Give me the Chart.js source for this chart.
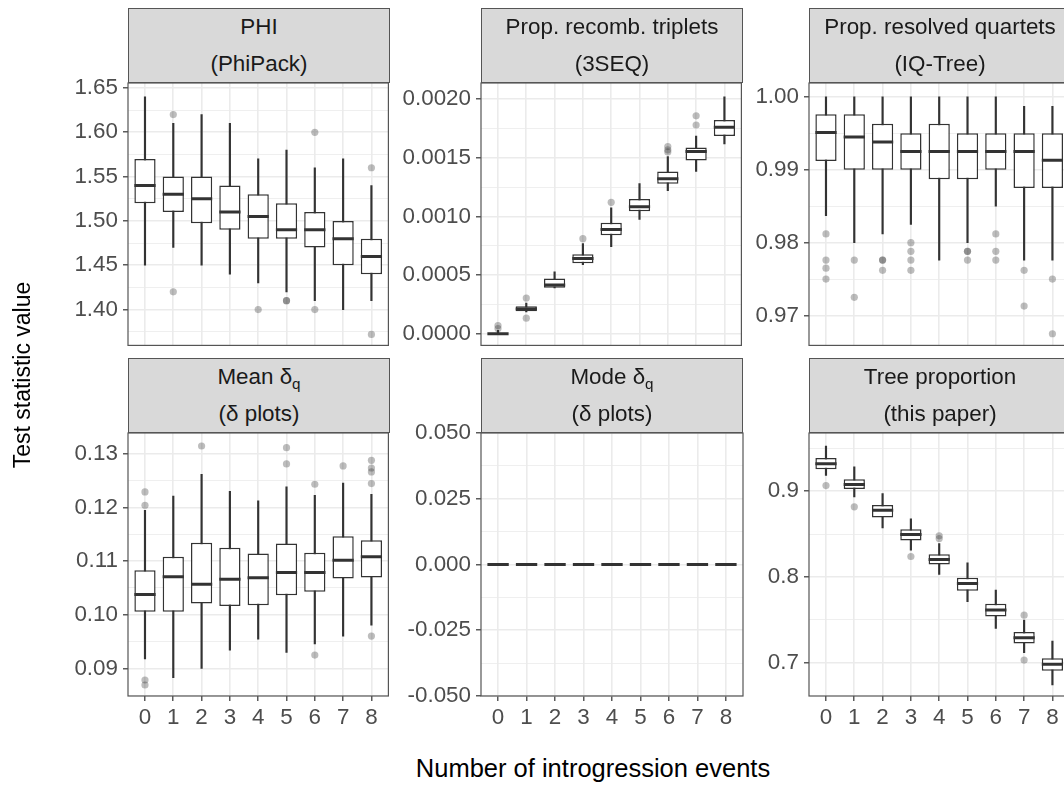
<!DOCTYPE html>
<html>
<head>
<meta charset="utf-8">
<script src="https://cdn.jsdelivr.net/npm/chart.js@4.4.1/dist/chart.umd.min.js"></script>
<style>
  html, body { margin: 0; padding: 0; background: #ffffff; }
  #fig { position: relative; width: 1064px; height: 790px; overflow: hidden;
         font-family: 'Liberation Sans', Arial, Helvetica, sans-serif; background: #fff; }
  #fig canvas { position: absolute; }
  .strip { position: absolute; box-sizing: border-box; background: #d9d9d9;
           border: 1.2px solid #555; color: #1a1a1a; font-size: 22.4px;
           text-align: center; line-height: 36.6px; white-space: nowrap; }
  .strip sub { font-size: 0.68em; line-height: 0; vertical-align: -0.32em; }
  .axis-title { position: absolute; color: #000; white-space: nowrap;
                text-align: center; line-height: 30px; }
</style>
</head>
<body>
<div id="fig"></div>
<script>
// Number of introgression events (x categories)
const categories = [0, 1, 2, 3, 4, 5, 6, 7, 8];

// PHI (PhiPack)
const phiLow  = [1.45, 1.47, 1.45, 1.44, 1.43, 1.42, 1.41, 1.40, 1.41];
const phiQ1   = [1.52, 1.51, 1.4975, 1.49, 1.48, 1.48, 1.47, 1.45, 1.44];
const phiMed  = [1.54, 1.53, 1.525, 1.51, 1.505, 1.49, 1.49, 1.48, 1.46];
const phiQ3   = [1.57, 1.55, 1.55, 1.54, 1.53, 1.52, 1.51, 1.50, 1.48];
const phiHigh = [1.64, 1.61, 1.62, 1.61, 1.57, 1.58, 1.56, 1.57, 1.54];
const phiOut  = [[], [1.62, 1.42], [], [], [1.40], [1.41, 1.41], [1.60, 1.40], [], [1.56, 1.372]];
const phiTicks = ['1.40', '1.45', '1.50', '1.55', '1.60', '1.65'];

// Proportion of recombinant triplets (3SEQ)
const seqLow  = [0, 0.000186, 0.00039, 0.00059, 0.000743, 0.000975, 0.00122, 0.001384, 0.001619];
const seqQ1   = [0, 0.000192, 0.000392, 0.000602, 0.000839, 0.001045, 0.00128, 0.001477, 0.001686];
const seqMed  = [0, 0.000212, 0.000415, 0.000641, 0.00089, 0.001082, 0.001322, 0.001553, 0.00176];
const seqQ3   = [0, 0.000235, 0.000472, 0.000678, 0.000947, 0.00115, 0.001384, 0.001588, 0.001822];
const seqHigh = [0.00003, 0.000262, 0.000528, 0.000768, 0.001074, 0.00128, 0.001511, 0.001686, 0.00202];
const seqOut  = [[0.000045, 0.00007], [0.000305, 0.000133], [], [0.000811], [0.001121], [],
                 [0.001596, 0.001568, 0.00155], [0.00178, 0.001858], []];
const seqTicks = ['0.0000', '0.0005', '0.0010', '0.0015', '0.0020'];

// Proportion of resolved quartets (IQ-Tree)
const iqLow  = [0.9837, 0.9800, 0.9812, 0.9825, 0.9776, 0.9800, 0.9850, 0.9776, 0.9776];
const iqQ1   = [0.9912, 0.9900, 0.9900, 0.9900, 0.9887, 0.9887, 0.9900, 0.9875, 0.9875];
const iqMed  = [0.9951, 0.9945, 0.9938, 0.9925, 0.9925, 0.9925, 0.9925, 0.9925, 0.9913];
const iqQ3   = [0.9976, 0.9976, 0.9963, 0.9950, 0.9963, 0.9950, 0.9950, 0.9950, 0.9950];
const iqHigh = [1.0000, 1.0000, 1.0000, 1.0000, 1.0000, 1.0000, 1.0000, 0.9987, 0.9987];
const iqOut  = [[0.9812, 0.9776, 0.9765, 0.9750], [0.9776, 0.9725], [0.9776, 0.9776, 0.9762],
                [0.9800, 0.9788, 0.9776, 0.9762], [], [0.9788, 0.9788, 0.9776],
                [0.9812, 0.9788, 0.9776], [0.9762, 0.9713], [0.9750, 0.9675]];
const iqTicks = ['0.97', '0.98', '0.99', '1.00'];

// Mean delta_q (delta plots)
const meanLow  = [0.09174, 0.08826, 0.09000, 0.09341, 0.09546, 0.09298, 0.09453, 0.09602, 0.09806];
const meanQ1   = [0.10054, 0.10054, 0.10209, 0.10160, 0.10178, 0.10364, 0.10426, 0.10674, 0.10693];
const meanMed  = [0.10377, 0.10705, 0.10569, 0.10662, 0.10687, 0.10786, 0.10786, 0.11016, 0.11078];
const meanQ3   = [0.10830, 0.11078, 0.11338, 0.11245, 0.11140, 0.11326, 0.11152, 0.11462, 0.11388];
const meanHigh = [0.11946, 0.12212, 0.12615, 0.12299, 0.12120, 0.12380, 0.12225, 0.12454, 0.12243];
const meanOut  = [[0.12287, 0.12039, 0.08783, 0.0869], [], [0.13143], [], [], [0.13112, 0.12808],
                  [0.1243, 0.09248], [0.12771], [0.12876, 0.12733, 0.12659, 0.12442, 0.09602]];
const meanTicks = ['0.09', '0.10', '0.11', '0.12', '0.13'];

// Mode delta_q (delta plots)
const modeLow  = [0, 0, 0, 0, 0, 0, 0, 0, 0];
const modeQ1   = [0, 0, 0, 0, 0, 0, 0, 0, 0];
const modeMed  = [0, 0, 0, 0, 0, 0, 0, 0, 0];
const modeQ3   = [0, 0, 0, 0, 0, 0, 0, 0, 0];
const modeHigh = [0, 0, 0, 0, 0, 0, 0, 0, 0];
const modeOut  = [[], [], [], [], [], [], [], [], []];
const modeTicks = ['-0.050', '-0.025', '0.000', '0.025', '0.050'];

// Tree proportion (this paper)
const treeLow  = [0.9186, 0.8934, 0.8573, 0.8313, 0.8029, 0.7711, 0.7400, 0.7117, 0.6740];
const treeQ1   = [0.9256, 0.9027, 0.8693, 0.8425, 0.8146, 0.7839, 0.7540, 0.7225, 0.6907];
const treeMed  = [0.9322, 0.9078, 0.8779, 0.8495, 0.8204, 0.7924, 0.7614, 0.7291, 0.6981];
const treeQ3   = [0.9388, 0.9140, 0.8841, 0.8557, 0.8266, 0.7990, 0.7687, 0.7357, 0.7051];
const treeHigh = [0.9528, 0.9284, 0.8973, 0.8678, 0.8390, 0.8165, 0.7847, 0.7497, 0.7252];
const treeOut  = [[0.9066], [0.8818], [], [0.8239], [0.8480, 0.8449], [], [], [0.7555, 0.7031], []];
const treeTicks = ['0.7', '0.8', '0.9'];

// ---- layout of the facet grid ----
const FONT = "'Liberation Sans', Arial, Helvetica, sans-serif";
const COL_LEFT = [128, 481, 809];
const PANEL_W = 262;
const STRIP_TOP = [8, 358];
const STRIP_H = 75;
const PLOT_TOP = [83, 433];
const PLOT_H = [264, 263];
const AXIS_W = 100;   // room for y tick labels
const PAD_TOP = 16;   // room for a tick label sitting on the top edge
const PAD_RIGHT = 2;

const panels = [
  { col: 0, row: 0, lines: ['PHI', '(PhiPack)'], low: phiLow, q1: phiQ1, med: phiMed, q3: phiQ3, high: phiHigh, out: phiOut, ticks: phiTicks, yMin: 1.3596, yMax: 1.6556 },
  { col: 1, row: 0, lines: ['Prop. recomb. triplets', '(3SEQ)'], low: seqLow, q1: seqQ1, med: seqMed, q3: seqQ3, high: seqHigh, out: seqOut, ticks: seqTicks, yMin: -0.0000992, yMax: 0.002138 },
  { col: 2, row: 0, lines: ['Prop. resolved quartets', '(IQ-Tree)'], low: iqLow, q1: iqQ1, med: iqMed, q3: iqQ3, high: iqHigh, out: iqOut, ticks: iqTicks, yMin: 0.9659, yMax: 1.0019 },
  { col: 0, row: 1, lines: ['Mean δ<sub>q</sub>', '(δ plots)'], low: meanLow, q1: meanQ1, med: meanMed, q3: meanQ3, high: meanHigh, out: meanOut, ticks: meanTicks, yMin: 0.08485, yMax: 0.13385 },
  { col: 1, row: 1, lines: ['Mode δ<sub>q</sub>', '(δ plots)'], low: modeLow, q1: modeQ1, med: modeMed, q3: modeQ3, high: modeHigh, out: modeOut, ticks: modeTicks, yMin: -0.05, yMax: 0.05 },
  { col: 2, row: 1, lines: ['Tree proportion', '(this paper)'], low: treeLow, q1: treeQ1, med: treeMed, q3: treeQ3, high: treeHigh, out: treeOut, ticks: treeTicks, yMin: 0.66117, yMax: 0.96796 }
];

// major ticks from the labels, minor ticks half-way between them
function tickObjects(labels, lo, hi) {
  const vals = labels.map(Number);
  const step = vals[1] - vals[0];
  const list = vals.map((v, i) => ({ value: v, text: labels[i], minor: false }));
  const mids = [vals[0] - step / 2];
  for (let i = 0; i < vals.length - 1; i++) mids.push((vals[i] + vals[i + 1]) / 2);
  mids.push(vals[vals.length - 1] + step / 2);
  mids.forEach(v => { if (v >= lo && v <= hi) list.push({ value: v, text: '', minor: true }); });
  return list.sort((a, b) => a.value - b.value);
}

// thick median bar across each box
const boxMedian = {
  id: 'boxMedian',
  afterDatasetsDraw(chart) {
    const ds = chart.data.datasets[1];
    const meta = chart.getDatasetMeta(1);
    const yScale = chart.scales.y;
    const ctx = chart.ctx;
    const a = chart.chartArea;
    ctx.save();
    ctx.beginPath();
    ctx.rect(a.left, a.top, a.right - a.left, a.bottom - a.top);
    ctx.clip();
    ctx.strokeStyle = '#333333';
    ctx.lineWidth = 3;
    meta.data.forEach((el, i) => {
      const y = yScale.getPixelForValue(ds.medians[i]);
      const half = el.width / 2;
      ctx.beginPath();
      ctx.moveTo(el.x - half, y);
      ctx.lineTo(el.x + half, y);
      ctx.stroke();
    });
    ctx.restore();
  }
};

// ggplot-style panel border
const panelBorder = {
  id: 'panelBorder',
  afterDraw(chart) {
    const a = chart.chartArea;
    const ctx = chart.ctx;
    ctx.save();
    ctx.strokeStyle = '#555555';
    ctx.lineWidth = 1.2;
    ctx.strokeRect(a.left, a.top, a.right - a.left, a.bottom - a.top);
    ctx.restore();
  }
};

const fig = document.getElementById('fig');

function drawPanel(p) {
  const bottomRow = p.row === 1;
  const xAxisH = bottomRow ? 44 : 2;
  const w = AXIS_W + PANEL_W + PAD_RIGHT;
  const h = PAD_TOP + PLOT_H[p.row] + xAxisH;
  const cv = document.createElement('canvas');
  cv.width = w; cv.height = h;
  cv.style.width = w + 'px'; cv.style.height = h + 'px';
  cv.style.left = (COL_LEFT[p.col] - AXIS_W) + 'px';
  cv.style.top = (PLOT_TOP[p.row] - PAD_TOP) + 'px';
  fig.appendChild(cv);

  const yTicks = tickObjects(p.ticks, p.yMin, p.yMax);
  const isMinor = ctx => !!(ctx && ctx.tick && ctx.tick.minor);

  new Chart(cv, {
    type: 'bar',
    data: {
      datasets: [
        {
          label: 'whiskers',
          data: categories.map((c, i) => ({ x: c, y: [p.low[i], p.high[i]] })),
          backgroundColor: '#333333',
          barThickness: 1.5,
          grouped: false,
          order: 3
        },
        {
          label: 'boxes',
          data: categories.map((c, i) => ({ x: c, y: [p.q1[i], p.q3[i]] })),
          medians: p.med,
          backgroundColor: '#ffffff',
          borderColor: '#333333',
          borderWidth: 1.5,
          borderSkipped: false,
          barPercentage: 0.75,
          categoryPercentage: 1,
          grouped: false,
          order: 2
        },
        {
          type: 'scatter',
          label: 'outliers',
          data: p.out.flatMap((vals, i) => vals.map(v => ({ x: categories[i], y: v }))),
          pointRadius: 3.6,
          pointHoverRadius: 3.6,
          backgroundColor: 'rgba(51,51,51,0.32)',
          borderWidth: 0,
          order: 1
        }
      ]
    },
    options: {
      responsive: false,
      animation: false,
      devicePixelRatio: 1,
      events: [],
      layout: { padding: { top: PAD_TOP, right: PAD_RIGHT, left: 0, bottom: 0 } },
      plugins: { legend: { display: false }, tooltip: { enabled: false } },
      scales: {
        x: {
          type: 'linear',
          min: -0.6,
          max: 8.6,
          offset: false,
          afterFit: s => { s.height = xAxisH; s.paddingLeft = 0; s.paddingRight = 0; },
          afterBuildTicks: s => { s.ticks = categories.map(c => ({ value: c, text: String(c) })); },
          ticks: {
            display: bottomRow,
            autoSkip: false,
            maxRotation: 0,
            padding: 3,
            color: '#4d4d4d',
            font: { family: FONT, size: 22.4 },
            callback: (v, i, t) => (t[i] && t[i].text !== undefined) ? t[i].text : ''
          },
          grid: {
            offset: false,
            color: '#ebebeb',
            lineWidth: 1.6,
            drawTicks: bottomRow,
            tickLength: 5,
            tickColor: '#333333',
            tickWidth: 1.2
          },
          border: { display: false }
        },
        y: {
          type: 'linear',
          min: p.yMin,
          max: p.yMax,
          afterFit: s => { s.width = AXIS_W; s.paddingTop = 0; s.paddingBottom = 0; },
          afterBuildTicks: s => { s.ticks = yTicks.map(t => ({ ...t })); },
          ticks: {
            autoSkip: false,
            padding: 5,
            color: '#4d4d4d',
            font: { family: FONT, size: 22.4 },
            callback: (v, i, t) => (t[i] && t[i].text !== undefined) ? t[i].text : ''
          },
          grid: {
            color: '#ebebeb',
            lineWidth: ctx => isMinor(ctx) ? 0.8 : 1.6,
            tickLength: 5,
            tickColor: ctx => isMinor(ctx) ? 'rgba(0,0,0,0)' : '#333333',
            tickWidth: 1.2
          },
          border: { display: false }
        }
      }
    },
    plugins: [boxMedian, panelBorder]
  });
}

function drawStrip(p) {
  const s = document.createElement('div');
  s.className = 'strip';
  s.style.left = COL_LEFT[p.col] + 'px';
  s.style.top = STRIP_TOP[p.row] + 'px';
  s.style.width = PANEL_W + 'px';
  s.style.height = STRIP_H + 'px';
  s.innerHTML = p.lines.map(l => '<div>' + l + '</div>').join('');
  fig.appendChild(s);
}

panels.forEach(drawPanel);
panels.forEach(drawStrip);

// axis titles
const yTitle = document.createElement('div');
yTitle.className = 'axis-title';
yTitle.textContent = 'Test statistic value';
yTitle.style.fontSize = '23px';
yTitle.style.width = '400px';
yTitle.style.left = (22 - 200) + 'px';
yTitle.style.top = (375 - 15) + 'px';
yTitle.style.transform = 'rotate(-90deg)';
fig.appendChild(yTitle);

const xTitle = document.createElement('div');
xTitle.className = 'axis-title';
xTitle.textContent = 'Number of introgression events';
xTitle.style.fontSize = '25.5px';
xTitle.style.width = '600px';
xTitle.style.left = (593 - 300) + 'px';
xTitle.style.top = (768 - 15) + 'px';
fig.appendChild(xTitle);
</script>
</body>
</html>
